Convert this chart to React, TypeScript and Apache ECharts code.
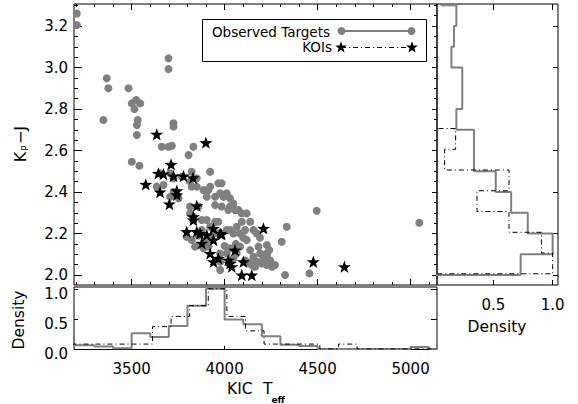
import React, { useEffect, useRef } from "react";
import * as echarts from "echarts";

// ---------------- data ----------------
const TEFF_OBS = [3205,3205,3366,3375,3348,3483,3501,3524,3546,3515,3533,3528,3528,3501,3542,3698,3698,3725,3725,3662,3698,3716,3653,3707,3635,3671,3725,3725,3752,3707,3770,3806,3832,3823,3814,3850,3823,3850,3922,3886,3913,3904,3922,3966,3984,3949,3976,3994,4011,4029,4029,4047,4056,4020,3984,3949,3814,3814,3832,3859,3877,3877,3904,3922,3949,3966,3940,3966,4011,4029,4047,4074,4092,4119,4137,4092,4065,4083,4110,4155,4173,3796,3823,3841,3886,3913,3931,3976,3976,3976,4011,4029,4047,4065,4083,4119,4137,4155,4182,4191,4209,4227,4173,4200,4227,4271,4227,4227,4307,4334,4325,4495,4456,5047,4110,4128,4146,4164,4245,4255,4100,4000,4060,3860,3895,4190,4240];
const KPJ_OBS = [3.26,3.205,2.948,2.90,2.747,2.90,2.827,2.843,2.827,2.80,2.747,2.723,2.675,2.546,2.527,3.044,2.993,2.731,2.715,2.618,2.618,2.623,2.49,2.49,2.426,2.434,2.466,2.40,2.37,2.377,2.474,2.578,2.618,2.498,2.45,2.466,2.426,2.426,2.498,2.41,2.41,2.377,2.426,2.442,2.442,2.377,2.394,2.377,2.394,2.37,2.33,2.345,2.313,2.313,2.33,2.337,2.297,2.33,2.281,2.33,2.265,2.217,2.265,2.233,2.257,2.257,2.20,2.20,2.217,2.217,2.20,2.313,2.297,2.297,2.257,2.257,2.233,2.20,2.217,2.217,2.20,2.184,2.169,2.137,2.129,2.137,2.169,2.104,2.064,2.024,2.104,2.129,2.08,2.104,2.137,2.169,2.12,2.088,2.137,2.104,2.08,2.088,2.064,2.056,2.048,2.048,2.145,2.104,2.16,2.233,2.0,2.31,2.008,2.252,2.07,2.06,2.05,2.04,2.07,2.04,2.18,2.14,2.15,2.19,2.16,2.18,2.12];

const TEFF_KOI = [3635,3899,3576,3644,3671,3712,3725,3779,3830,3653,3743,3743,3703,3850,3832,3832,3796,3850,3868,3904,3940,3976,3984,3877,3940,3922,3940,3966,4020,4038,4029,4056,4101,4092,4146,4209,4477,4644];
const KPJ_KOI = [2.678,2.638,2.437,2.49,2.487,2.533,2.477,2.477,2.469,2.40,2.406,2.386,2.342,2.334,2.281,2.265,2.209,2.209,2.20,2.193,2.225,2.20,2.196,2.153,2.169,2.104,2.064,2.08,2.072,2.04,2.056,2.12,2.064,2.0,2.0,2.225,2.064,2.04];

// Teff histograms (bottom panel)
const TEFF_EDGES_OBS = [3100,3200,3300,3400,3500,3600,3700,3800,3900,4000,4100,4200,4300,4400,4500,4600,4700,4800,4900,5000,5100,5200];
const TEFF_DENS_OBS = [0.06,0.06,0.04,0.01,0.26,0.20,0.38,0.72,1.0,0.49,0.41,0.21,0.07,0.05,0,0,0,0,0,0.03,0];
const TEFF_EDGES_KOI = [3112,3212,3312,3412,3512,3612,3712,3812,3912,4012,4112,4212,4312,4412,4512,4612,4712,4812,4912,5012,5112,5212];
const TEFF_DENS_KOI = [0.08,0.08,0.08,0.08,0.08,0.37,0.54,0.72,1.0,0.54,0.30,0.08,0.08,0.08,0,0.08,0,0,0,0,0];

// Kp-J histograms (right panel)
const KPJ_EDGES_OBS = [1.9,2.0,2.1,2.2,2.3,2.4,2.5,2.6,2.7,2.8,2.9,3.0,3.1,3.2,3.3,3.4];
const KPJ_DENS_OBS = [0,0.73,1.0,0.79,0.65,0.52,0.337,0.337,0.188,0.238,0.238,0.146,0.168,0.188,0.06];
const KPJ_EDGES_KOI = [1.906,2.006,2.106,2.206,2.306,2.406,2.506,2.606,2.706,2.806];
const KPJ_DENS_KOI = [0,1.0,0.905,0.632,0.362,0.632,0.089,0.182,0];

// ticks
const TEFF_MAJOR = [3500,4000,4500,5000];
const TEFF_MINOR = [3200,3300,3400,3600,3700,3800,3900,4100,4200,4300,4400,4600,4700,4800,4900,5100];
const KPJ_MAJOR = [2.0,2.2,2.4,2.6,2.8,3.0,3.2];
const KPJ_MINOR = [2.05,2.1,2.15,2.25,2.3,2.35,2.45,2.5,2.55,2.65,2.7,2.75,2.85,2.9,2.95,3.05,3.1,3.15,3.25,3.3];
const DENS_MAJOR = [0.0,0.5,1.0];
const DENS_RIGHT = [0.5,1.0];

// ---------------- helpers ----------------
const FONT = '"DejaVu Sans", sans-serif';
const GRAY = "#808080";
const STAR_D = "M0,-10L2.35,-3.24L9.51,-3.09L3.8,1.24L5.88,8.09L0,4L-5.88,8.09L-3.8,1.24L-9.51,-3.09L-2.35,-3.24Z";

let registered = false;
function registerStar() {
  if (registered) return;
  echarts.graphic.registerShape("kstar", echarts.graphic.extendPath(STAR_D, {}) as any);
  registered = true;
}

function stepH(edges: number[], vals: number[]) {
  const out: number[][] = [];
  vals.forEach((v, i) => {
    out.push([edges[i], v]);
    out.push([edges[i + 1], v]);
  });
  return out;
}
function stepV(edges: number[], vals: number[]) {
  const out: number[][] = [];
  vals.forEach((v, i) => {
    out.push([v, edges[i]]);
    out.push([v, edges[i + 1]]);
  });
  return out;
}

function axis(
  gridIndex: number,
  position: string,
  min: number,
  max: number,
  ticks: number[],
  len: number,
  labels?: number[],
  fmt?: (v: number) => string,
  margin?: number,
  extra?: any
) {
  return {
    type: "value",
    gridIndex,
    position,
    min,
    max,
    axisLine: { show: false },
    splitLine: { show: false },
    axisTick: {
      show: true,
      inside: true,
      length: len,
      customValues: ticks,
      lineStyle: { color: "#000", width: 1 },
    },
    minorTick: { show: false },
    axisLabel: labels
      ? {
          show: true,
          customValues: labels,
          formatter: fmt,
          color: "#000",
          fontFamily: FONT,
          fontSize: 15,
          margin: margin ?? 8,
          showMinLabel: true,
          showMaxLabel: true,
          ...(extra || {}),
        }
      : { show: false },
  };
}

const X_MIN = 3190, X_MAX = 5142;
const Y_MIN = 1.952, Y_MAX = 3.306;
const D_MIN = -0.01, D_MAX = 1.03;
const R_MIN = 0.025, R_MAX = 1.045;

const f1 = (v: number) => v.toFixed(1);
const f0 = (v: number) => String(Math.round(v));

function txt(x: number, y: number, text: string, size: number, opts: any = {}) {
  return {
    type: "text",
    x,
    y,
    rotation: opts.rotation ?? 0,
    z: 100,
    style: {
      text,
      fill: "#000",
      fontFamily: FONT,
      fontSize: size,
      fontWeight: opts.bold ? "bold" : "normal",
      align: opts.align ?? "center",
      verticalAlign: "middle",
    },
  };
}

export default function App() {
  const ref = useRef<HTMLDivElement>(null);
  useEffect(() => {
    registerStar();
    const chart = echarts.init(ref.current!, null, { renderer: "svg" });
    const option: any = {
      animation: false,
      backgroundColor: "#fff",
      grid: [
        { left: 74, top: 4, width: 363, height: 281, show: true, borderColor: "#000", borderWidth: 1 },
        { left: 74, top: 287, width: 363, height: 62.5, show: true, borderColor: "#000", borderWidth: 1 },
        { left: 437, top: 4, width: 121, height: 281, show: true, borderColor: "#000", borderWidth: 1 },
      ],
      xAxis: [
        axis(0, "bottom", X_MIN, X_MAX, TEFF_MAJOR, 6),
        axis(0, "bottom", X_MIN, X_MAX, TEFF_MINOR, 3),
        axis(0, "top", X_MIN, X_MAX, TEFF_MAJOR, 6),
        axis(0, "top", X_MIN, X_MAX, TEFF_MINOR, 3),
        axis(1, "bottom", X_MIN, X_MAX, TEFF_MAJOR, 3, TEFF_MAJOR, f0, 12),
        axis(2, "bottom", R_MIN, R_MAX, DENS_RIGHT, 5, DENS_RIGHT, f1, 12),
        axis(2, "top", R_MIN, R_MAX, DENS_RIGHT, 6),
      ],
      yAxis: [
        axis(0, "left", Y_MIN, Y_MAX, KPJ_MAJOR, 8, KPJ_MAJOR, f1, 6),
        axis(0, "left", Y_MIN, Y_MAX, KPJ_MINOR, 4),
        axis(0, "right", Y_MIN, Y_MAX, KPJ_MAJOR, 5),
        axis(0, "right", Y_MIN, Y_MAX, KPJ_MINOR, 3),
        axis(1, "left", D_MIN, D_MAX, DENS_MAJOR, 4, DENS_MAJOR, f1, 6, {
          verticalAlign: "top",
          lineHeight: 10,
        }),
        axis(1, "right", D_MIN, D_MAX, [0.5, 1.0], 6),
        axis(2, "right", Y_MIN, Y_MAX, KPJ_MAJOR, 5),
      ],
      series: [
        {
          type: "scatter",
          xAxisIndex: 0,
          yAxisIndex: 0,
          data: TEFF_OBS.map((t, i) => [t, KPJ_OBS[i]]),
          symbol: "circle",
          symbolSize: 8,
          itemStyle: { color: GRAY, opacity: 1 },
          z: 2,
        },
        {
          type: "scatter",
          xAxisIndex: 0,
          yAxisIndex: 0,
          data: TEFF_KOI.map((t, i) => [t, KPJ_KOI[i]]),
          symbol: "path://" + STAR_D,
          symbolKeepAspect: true,
          symbolSize: 13,
          itemStyle: { color: "#000", opacity: 1 },
          z: 3,
        },
        {
          type: "line",
          xAxisIndex: 4,
          yAxisIndex: 4,
          data: stepH(TEFF_EDGES_OBS, TEFF_DENS_OBS),
          showSymbol: false,
          symbol: "none",
          lineStyle: { color: GRAY, width: 2 },
          clip: true,
          z: 2,
        },
        {
          type: "line",
          xAxisIndex: 4,
          yAxisIndex: 4,
          data: stepH(TEFF_EDGES_KOI, TEFF_DENS_KOI),
          showSymbol: false,
          symbol: "none",
          lineStyle: { color: "#000", width: 1, type: [5, 3, 1, 3] },
          clip: true,
          z: 3,
        },
        {
          type: "line",
          xAxisIndex: 5,
          yAxisIndex: 6,
          data: stepV(KPJ_EDGES_OBS, KPJ_DENS_OBS),
          showSymbol: false,
          symbol: "none",
          lineStyle: { color: GRAY, width: 2 },
          clip: true,
          z: 2,
        },
        {
          type: "line",
          xAxisIndex: 5,
          yAxisIndex: 6,
          data: stepV(KPJ_EDGES_KOI, KPJ_DENS_KOI),
          showSymbol: false,
          symbol: "none",
          lineStyle: { color: "#000", width: 1, type: [5, 3, 1, 3] },
          clip: true,
          z: 3,
        },
      ],
      graphic: [
        // legend
        {
          type: "rect",
          z: 90,
          shape: { x: 202.5, y: 19.5, width: 224, height: 42 },
          style: { fill: "#fff", stroke: "#000", lineWidth: 1 },
        },
        txt(330, 31.5, "Observed Targets", 13.5, { align: "right" }),
        {
          type: "line",
          z: 100,
          shape: { x1: 341.5, y1: 31, x2: 411.5, y2: 31 },
          style: { stroke: GRAY, lineWidth: 2 },
        },
        { type: "circle", z: 101, shape: { cx: 341.5, cy: 31, r: 4 }, style: { fill: GRAY } },
        { type: "circle", z: 101, shape: { cx: 411.5, cy: 31, r: 4 }, style: { fill: GRAY } },
        txt(332, 47, "KOIs", 13.5, { align: "right" }),
        {
          type: "line",
          z: 100,
          shape: { x1: 341, y1: 47.5, x2: 412, y2: 47.5 },
          style: { stroke: "#000", lineWidth: 1, lineDash: [5, 3, 1, 3] },
        },
        { type: "kstar", z: 101, x: 341, y: 47.5, scaleX: 0.62, scaleY: 0.62, style: { fill: "#000" } },
        { type: "kstar", z: 101, x: 412, y: 47.5, scaleX: 0.62, scaleY: 0.62, style: { fill: "#000" } },
        // axis titles
        txt(20, 157, "K", 16, { rotation: Math.PI / 2 }),
        txt(25, 148, "P", 9, { rotation: Math.PI / 2 }),
        txt(20, 135, "\u2212J", 16, { rotation: Math.PI / 2 }),
        txt(19, 320, "Density", 15.5, { rotation: Math.PI / 2 }),
        txt(227, 389, "KIC", 15.5, { align: "left" }),
        txt(263, 389, "T", 15.5, { align: "left" }),
        txt(271.5, 399.5, "eff", 9, { align: "left", bold: true }),
        txt(497, 327, "Density", 15.5),
      ],
    };
    chart.setOption(option);
    return () => chart.dispose();
  }, []);
  return (
    <div
      ref={ref}
      style={{ position: "absolute", left: 0, top: 0, width: 578, height: 404 }}
    />
  );
}
